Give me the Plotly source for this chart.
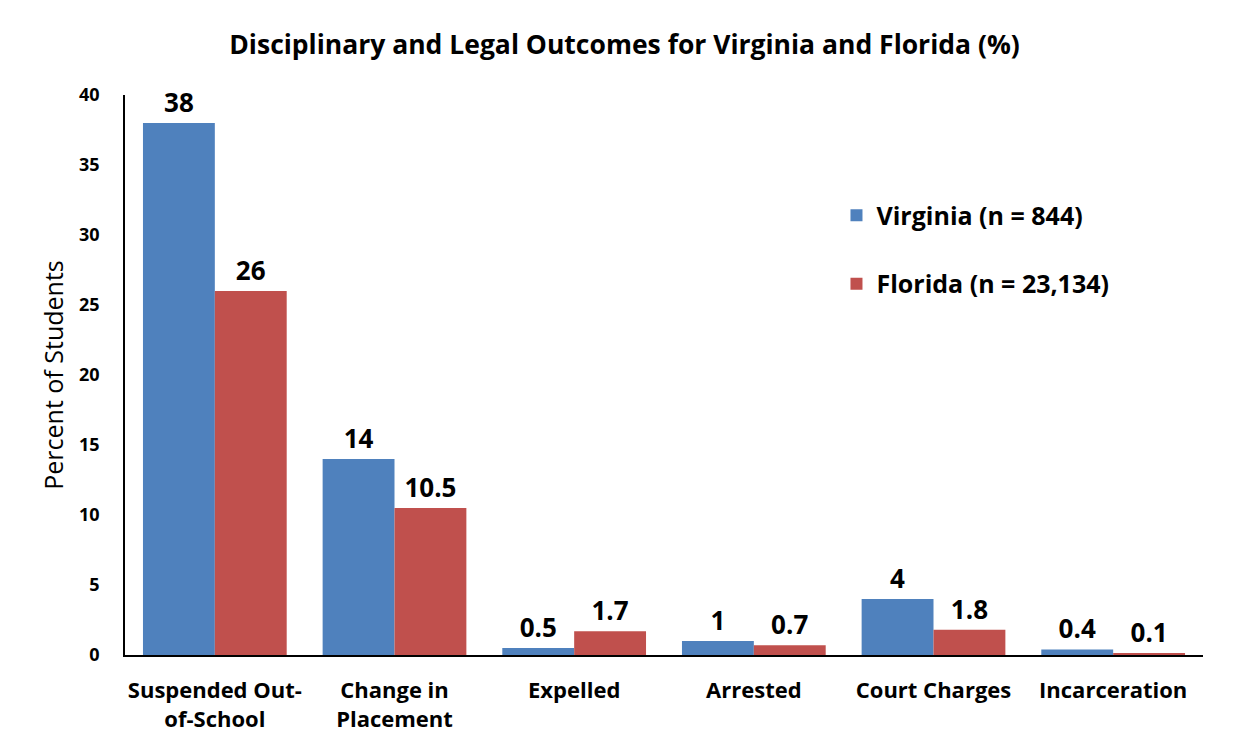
import plotly.graph_objects as go

categories = ["Suspended Out-<br>of-School", "Change in<br>Placement", "Expelled",
              "Arrested", "Court Charges", "Incarceration"]
virginia = [38, 14, 0.5, 1, 4, 0.4]
florida = [26, 10.5, 1.7, 0.7, 1.8, 0.1]
virginia_labels = ["38", "14", "0.5", "1", "4", "0.4"]
florida_labels = ["26", "10.5", "1.7", "0.7", "1.8", "0.1"]
series_names = ["Virginia (n = 844)", "Florida (n = 23,134)"]

FONT = "Open Sans"

fig = go.Figure()
fig.add_trace(go.Bar(
    x=categories, y=virginia, name="<b>" + series_names[0] + "</b>",
    marker=dict(color="#4F81BD", line=dict(width=0)),
    text=virginia_labels, texttemplate="<b>%{text}</b>",
    textposition="outside", cliponaxis=False,
    textfont=dict(family=FONT, size=26, color="black"),
    legendgroup="va",
))
fig.add_trace(go.Bar(
    x=categories, y=florida, name="<b>" + series_names[1] + "</b>",
    marker=dict(color="#C0504D", line=dict(width=0)),
    text=florida_labels, texttemplate="<b>%{text}</b>",
    textposition="outside", cliponaxis=False,
    textfont=dict(family=FONT, size=26, color="black"),
    legendgroup="fl",
))

fig.update_layout(
    width=1233, height=752,
    paper_bgcolor="white", plot_bgcolor="white",
    font=dict(family=FONT, color="black"),
    title=dict(text="<b>Disciplinary and Legal Outcomes for Virginia and Florida (%)</b>",
               x=0.5, xanchor="center", y=0.951, yanchor="middle",
               font=dict(family=FONT, size=26.5, color="black")),
    margin=dict(l=117, r=38, t=87, b=105),
    barmode="group", bargap=0.2, bargroupgap=0,
    showlegend=True,
    legend=dict(x=0.66, y=0.826, xanchor="left", yanchor="top",
                font=dict(family=FONT, size=25, color="black"),
                traceorder="grouped", tracegroupgap=33,
                bgcolor="rgba(0,0,0,0)", itemwidth=30),
    xaxis=dict(showline=True, linecolor="black", linewidth=1.5,
               ticks="outside", ticklen=15, tickcolor="rgba(0,0,0,0)",
               tickprefix="<b>", ticksuffix="</b>",
               tickfont=dict(family=FONT, size=22, color="black"),
               showgrid=False),
    yaxis=dict(range=[0, 40], dtick=5, showline=True, linecolor="black", linewidth=1.5,
               ticks="outside", ticklen=20, tickcolor="rgba(0,0,0,0)",
               tickprefix="<b>", ticksuffix="</b>",
               showgrid=False, zeroline=False,
               tickfont=dict(family=FONT, size=18, color="black"),
               title=dict(text="Percent of Students",
                          font=dict(family=FONT, size=25, color="black"),
                          standoff=8)),
)

fig.write_html("out.html")
